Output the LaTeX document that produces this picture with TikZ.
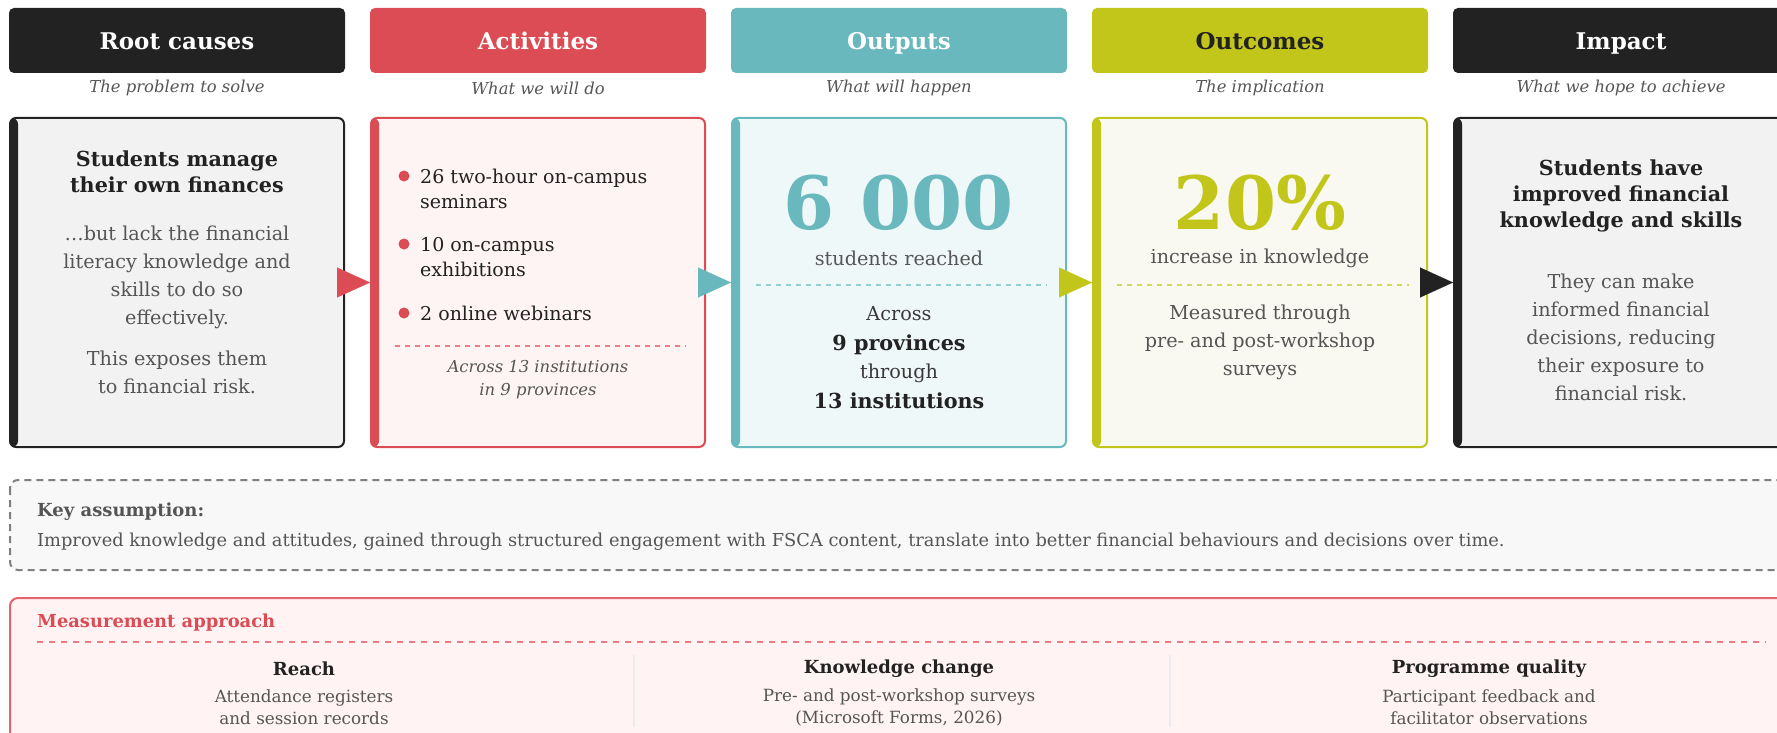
\documentclass[tikz,border=0pt]{standalone}
\usepackage{fontspec}
\setmainfont{DejaVu Serif}
\usetikzlibrary{arrows.meta}

\definecolor{inkdark}{HTML}{222222}
\definecolor{actred}{HTML}{DB4C54}
\definecolor{outteal}{HTML}{69B8BD}
\definecolor{ocolive}{HTML}{C2C61A}
\definecolor{txtgray}{HTML}{555555}
\definecolor{paperroot}{HTML}{F2F2F2}
\definecolor{paperact}{HTML}{FEF4F4}
\definecolor{paperout}{HTML}{EFF8F9}
\definecolor{paperoc}{HTML}{F9F9F1}
\definecolor{paperkey}{HTML}{F8F8F8}
\definecolor{papermeas}{HTML}{FFF3F3}
\definecolor{measedge}{HTML}{E2646C}
\definecolor{measline}{HTML}{EE7A82}
\definecolor{sepgray}{HTML}{EBEBF0}

\newcommand\fsz[2]{\fontsize{#1}{#2}\selectfont}

\begin{document}
\begin{tikzpicture}[x=1pt,y=-1pt,
  head/.style={rounded corners=5pt,minimum width=336pt,minimum height=65pt,inner sep=0pt,text=white,
    text height=17.5pt,text depth=0pt,font=\fsz{23}{27}\bfseries},
  tag/.style={font=\fsz{16.4}{23}\itshape,text=txtgray,align=center},
  card/.style={draw=#1,line width=2pt,rounded corners=6pt,minimum width=334pt,minimum height=329pt,inner sep=0pt,
    path picture={\fill[#1] (path picture bounding box.north west) rectangle ([xshift=8pt]path picture bounding box.south west);}},
  lead/.style={font=\fsz{20.7}{26}\bfseries,text=inkdark,align=center},
  body/.style={font=\fsz{19.2}{28},text=txtgray,align=center},
  item/.style={font=\fsz{19}{25},text=inkdark,align=left,anchor=west,inner sep=0pt},
  dot/.style={circle,fill=actred,inner sep=0pt,minimum size=11pt},
  big/.style={font=\fsz{73.5}{75}\bfseries},
  divider/.style={line width=1.5pt,dash pattern=on 5pt off 5pt},
  flow/.style={draw=#1,fill=#1,line width=0.1pt,-{Triangle[length=33pt,width=30pt]}},
  sep/.style={draw=sepgray,line width=2pt}]
  \useasboundingbox (0,0) rectangle (1777,733);
  \clip (0,0) rectangle (1777,733);
  % ============ HEADERS ============
  \node[head,fill=inkdark] (hroot) at (177,40.5) {Root causes};
  \node[head,fill=actred] (hact) at (538,40.5) {Activities};
  \node[head,fill=outteal] (hout) at (899,40.5) {Outputs};
  \node[head,fill=ocolive,text=inkdark] (hoc) at (1260,40.5) {Outcomes};
  \node[head,fill=inkdark] (himp) at (1621,40.5) {Impact};
  \node[tag] (troot) at (177,88) {The problem to solve};
  \node[tag] (tact) at (538,88) {What we will do};
  \node[tag] (tout) at (899,88) {What will happen};
  \node[tag] (toc) at (1260,88) {The implication};
  \node[tag] (timp) at (1621,88) {What we hope to achieve};
  % ============ ROOT CAUSES ============
  \node[card=inkdark,fill=paperroot] (root) at (177,282.5) {};
  \node[lead] (rootlead) at (177,171.5) {Students manage\\their own finances};
  \node[body] (rootbody) at (177,277.5) {…but lack the financial\\literacy knowledge and\\skills to do so\\effectively.};
  \node[body] (rootnote) at (177,372) {This exposes them\\to financial risk.};
  % ============ ACTIVITIES ============
  \node[card=actred,fill=paperact] (act) at (538,282.5) {};
  \node[dot] (d1) at (404,176) {};
  \node[item] (i1) at (420,188.5) {26 two-hour on-campus\\seminars};
  \node[dot] (d2) at (404,244) {};
  \node[item] (i2) at (420,257) {10 on-campus\\exhibitions};
  \node[dot] (d3) at (404,313) {};
  \node[item] (i3) at (420,313) {2 online webinars};
  \draw[divider,actred!70] (395,346) -- (686,346);
  \node[tag] (actnote) at (538,380) {Across 13 institutions\\in 9 provinces};
  % ============ OUTPUTS ============
  \node[card=outteal,fill=paperout] (out) at (899,282.5) {};
  \node[big,text=outteal] (outnum) at (899,203) {6 000};
  \node[body] (outsub) at (899,258) {students reached};
  \draw[divider,outteal!70] (756,285) -- (1047,285);
  \node[body,text=inkdark!90] (outa) at (899,314) {Across};
  \node[lead] (outb) at (899,345) {9 provinces};
  \node[body,text=inkdark!90] (outc) at (899,373) {through};
  \node[lead] (outd) at (899,401) {13 institutions};
  % ============ OUTCOMES ============
  \node[card=ocolive,fill=paperoc] (oc) at (1260,282.5) {};
  \node[big,text=ocolive] (ocnum) at (1260,203) {20\%};
  \node[body] (ocsub) at (1260,258) {increase in knowledge};
  \draw[divider,ocolive!70] (1117,285) -- (1409,285);
  \node[body] (ocnote) at (1260,342.5) {Measured through\\pre- and post-workshop\\surveys};
  % ============ IMPACT ============
  \node[card=inkdark,fill=paperroot] (imp) at (1621,282.5) {};
  \node[lead] (implead) at (1621,196) {Students have\\improved financial\\knowledge and skills};
  \node[body] (impbody) at (1621,337) {They can make\\informed financial\\decisions, reducing\\their exposure to\\financial risk.};
  % ---------- flow between columns ----------
  \draw[flow=actred] (root.east) -- (act.west);
  \draw[flow=outteal] (act.east) -- (out.west);
  \draw[flow=ocolive] (out.east) -- (oc.west);
  \draw[flow=inkdark] (oc.east) -- (imp.west);
  % ============ KEY ASSUMPTION ============
  \draw[fill=paperkey,draw=black!50,line width=2pt,dash pattern=on 7pt off 5pt,rounded corners=8pt] (10,480) rectangle (1800,570);
  \node[anchor=west,inner sep=0pt,font=\fsz{18}{20}\bfseries,text=txtgray] (keyhead) at (37,512) {Key assumption:};
  \node[anchor=west,inner sep=0pt,font=\fsz{17.8}{20},text=txtgray] (keytext) at (37,542) {Improved knowledge and attitudes, gained through structured engagement with FSCA content, translate into better financial behaviours and decisions over time.};
  % ============ MEASUREMENT APPROACH ============
  \draw[fill=papermeas,draw=measedge,line width=2pt,rounded corners=8pt] (10,598) rectangle (1800,780);
  \node[anchor=west,inner sep=0pt,font=\fsz{17.9}{20}\bfseries,text=actred] (meashead) at (37,623) {Measurement approach};
  \draw[measline,line width=1.5pt,dash pattern=on 6pt off 6pt] (37,642) -- (1766,642);
  \node[font=\fsz{18}{20}\bfseries,text=inkdark] (mreach) at (304,669) {Reach};
  \node[font=\fsz{16.8}{22},text=txtgray,align=center] (mreachtxt) at (304,707) {Attendance registers\\and session records};
  \draw[sep] (634,655) -- (634,727);
  \node[font=\fsz{18}{20}\bfseries,text=inkdark] (mknow) at (899,669) {Knowledge change};
  \node[font=\fsz{16.8}{22},text=txtgray,align=center] (mknowtxt) at (899,707) {Pre- and post-workshop surveys\\(Microsoft Forms, 2026)};
  \draw[sep] (1170,655) -- (1170,727);
  \node[font=\fsz{18}{20}\bfseries,text=inkdark] (mqual) at (1489,669) {Programme quality};
  \node[font=\fsz{16.8}{22},text=txtgray,align=center] (mqualtxt) at (1489,707) {Participant feedback and\\facilitator observations};
\end{tikzpicture}
\end{document}
